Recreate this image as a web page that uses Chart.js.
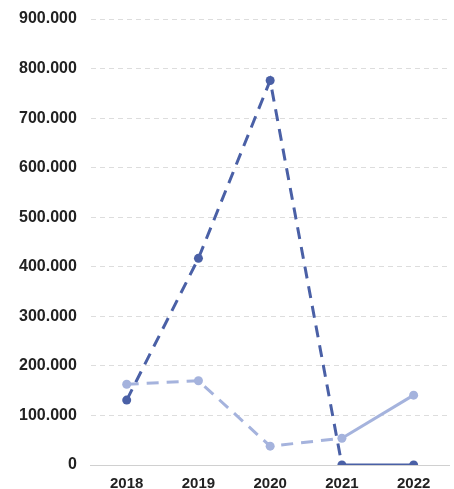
<!DOCTYPE html>
<html>
<head>
<meta charset="utf-8">
<script src="https://cdn.jsdelivr.net/npm/chart.js@4"></script>
<style>
html,body{margin:0;padding:0;background:#fff;}
#wrap{width:454px;height:489px;position:relative;}
</style>
</head>
<body>
<div id="wrap"><canvas id="c"></canvas></div>
<script>
const categories = ['2018', '2019', '2020', '2021', '2022'];
const seriesDark = [131000, 417000, 776000, 0, 0];
const seriesLight = [163000, 170000, 38000, 54000, 141000];
const yTicks = [0, 100000, 200000, 300000, 400000, 500000, 600000, 700000, 800000, 900000];

const darkColor = '#4a60a6';
const lightColor = '#a5b3dd';
const dashUntil = 3;

function seg(ctx) { return ctx.p1DataIndex <= dashUntil ? [12, 8] : undefined; }

new Chart(document.getElementById('c'), {
  type: 'line',
  data: {
    labels: categories,
    datasets: [
      {
        label: 'A',
        data: seriesLight,
        borderColor: lightColor,
        backgroundColor: lightColor,
        borderWidth: 3,
        pointRadius: 4.5,
        pointBorderWidth: 0,
        pointHoverRadius: 4.5,
        segment: { borderDash: seg },
        tension: 0
      },
      {
        label: 'B',
        data: seriesDark,
        borderColor: darkColor,
        backgroundColor: darkColor,
        borderWidth: 3,
        pointRadius: 4.5,
        pointBorderWidth: 0,
        pointHoverRadius: 4.5,
        segment: { borderDash: seg },
        tension: 0
      }
    ]
  },
  options: {
    responsive: true,
    maintainAspectRatio: false,
    animation: false,
    layout: { padding: { top: 0, left: 5, right: 3, bottom: -14 } },
    plugins: { legend: { display: false }, tooltip: { enabled: false } },
    scales: {
      x: {
        offset: true,
        grid: { display: false, drawTicks: false },
        border: { display: true, color: '#d0d0d0', width: 1 },
        ticks: { color: '#222', padding: 10, font: { family: 'Liberation Sans, Arial, sans-serif', size: 15, weight: 'bold' } }
      },
      y: {
        min: yTicks[0],
        max: yTicks[yTicks.length - 1],
        afterBuildTicks: (axis) => { axis.ticks = yTicks.map(v => ({ value: v })); },
        grid: { color: '#dddddd', drawTicks: false, lineWidth: 1 },
        border: { display: false, dash: [5, 4] },
        ticks: {
          color: '#222', padding: 14,
          font: { family: 'Liberation Sans, Arial, sans-serif', size: 16, weight: 'bold', lineHeight: 0.625 },
          callback: (v) => Number(v).toLocaleString('de-DE')
        }
      }
    }
  }
});
</script>
</body>
</html>
